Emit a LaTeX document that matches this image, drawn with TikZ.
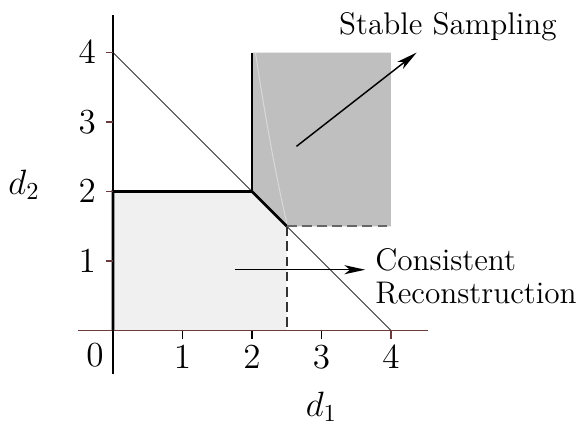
\documentclass[tikz,border=0pt]{standalone}
\usepackage{amsmath,amssymb}
\usepackage{tikz}
\usetikzlibrary{arrows.meta,positioning}
\usepackage{xcolor}
\definecolor{axisbrown}{rgb}{0.42, 0.23, 0.23}
\definecolor{lightregion}{gray}{0.94}
\definecolor{darkregion}{gray}{0.75}

\begin{document}
\begin{tikzpicture}[scale=1,
    every node/.style={font=\fontsize{14}{14}\selectfont},
    caption/.style={font=\fontsize{12.8}{13.9}\selectfont},
    bound/.style={line width=1.1pt, black},
    cut/.style={dash pattern=on 4pt off 2.2pt, line width=0.7pt},
    pointer/.style={-{Stealth[length=3mm,width=1.3mm,inset=0.8mm]}, line width=0.6pt}]
        \useasboundingbox (-1.626,-1.451) rectangle (6.662,4.756);

        % Shaded regions
        \fill[lightregion] (0,0) -- (0,2) -- (2,2) -- (2.5,1.5) -- (2.5,0) -- cycle;
        \fill[darkregion] (2,4) -- (2,2) -- (2.5,1.5) -- (4,1.5) -- (4,4) -- cycle;
        \draw[white!40!darkregion, line width=0.4pt] (2.05,4) .. controls (2.2,3.0) and (2.35,2.2) .. (2.5,1.55);

        % Line d1 + d2 = 4
        \draw[black!80, line width=0.4pt] (0,4) -- (4,0);

        % Region boundaries
        \draw[bound] (0,0) -- (0,2) -- (2,2) -- (2.5,1.5);
        \draw[bound] (2,2) -- (2,4);
        \draw[cut, black!80] (2.5,1.5) -- (2.5,0);
        \draw[cut, black!60] (2.5,1.5) -- (4,1.5);

        % Axes
        \draw[axisbrown, line width=0.6pt] (-0.5,0) -- (4.53,0);
        \draw[black, line width=0.6pt] (0,-0.62) -- (0,4.54);
        \foreach \x in {1,2,3}
            \draw[black, line width=0.6pt] (\x,0) -- (\x,-0.12);
        \draw[axisbrown, line width=0.6pt] (4,0) -- (4,-0.12);
        \foreach \y in {1,2,3,4}
            \draw[axisbrown, line width=0.6pt] (0,\y) -- (-0.1,\y);
        \foreach \x in {1,2,3,4}
            \node (xlab\x) at (\x,-0.39) {$\x$};
        \foreach \y in {1,2,3,4}
            \node (ylab\y) at (-0.37,\y) {$\y$};
        \node (zero) at (-0.26,-0.35) {$0$};
        \node (done) at (3.0,-1.1) {$d_1$};
        \node (dtwo) at (-1.28,2.1) {$d_2$};

        % Labels with arrows
        \node[caption] (stable) at (4.82,4.37) {Stable Sampling};
        \node[caption, anchor=west, align=left] (consistent) at (3.65,0.78) {Consistent\\Reconstruction};
        \coordinate (stablefrom) at (2.64,2.65);
        \coordinate (stableto) at (4.37,4.0);
        \coordinate (consfrom) at (1.75,0.875);
        \coordinate (consto) at (3.63,0.875);
        \draw[pointer] (stablefrom) -- (stableto);
        \draw[pointer] (consfrom) -- (consto);
    \end{tikzpicture}
\end{document}
